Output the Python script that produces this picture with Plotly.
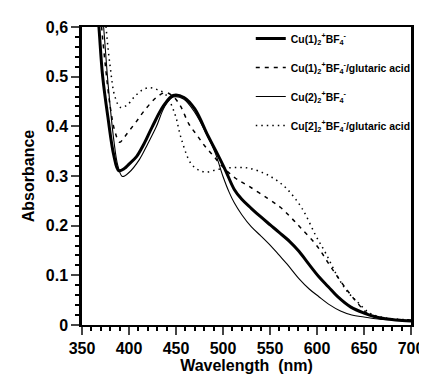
import plotly.graph_objects as go

# Cu(1)2+BF4- (thick solid)
wl_cu1 = [362, 368, 372, 377.6, 383.8, 389, 395, 400, 408, 416, 424.7, 437, 447, 458.5, 470, 484, 492, 502.5, 512, 520, 530, 540, 550.6, 560, 571, 581, 591.5, 602, 612, 622, 636, 650, 665, 683.7, 700]
abs_cu1 = [0.75, 0.6, 0.50, 0.418, 0.342, 0.311, 0.315, 0.324, 0.339, 0.365, 0.399, 0.442, 0.462, 0.458, 0.435, 0.381, 0.352, 0.312, 0.273, 0.253, 0.235, 0.218, 0.201, 0.186, 0.168, 0.148, 0.122, 0.097, 0.077, 0.057, 0.036, 0.024, 0.015, 0.01, 0.008]

# Cu(1)2+BF4-/glutaric acid (dashed)
wl_cu1g = [364, 370, 375, 380, 385, 390, 395, 401, 408, 416.5, 429, 439, 447, 455, 463.6, 472, 480, 490, 500, 513, 527, 547.5, 561, 573, 583, 600, 615, 632.5, 645, 653, 665, 685, 700]
abs_cu1g = [0.8, 0.62, 0.52, 0.44, 0.39, 0.368, 0.378, 0.393, 0.41, 0.432, 0.458, 0.468, 0.46, 0.44, 0.405, 0.383, 0.362, 0.34, 0.318, 0.296, 0.28, 0.255, 0.237, 0.215, 0.195, 0.159, 0.116, 0.069, 0.04, 0.024, 0.014, 0.011, 0.01]

# Cu(2)2+BF4- (thin solid)
wl_cu2 = [366, 373, 378, 384, 388, 393, 400, 411, 420, 429, 438, 447, 458, 470, 482, 492, 500, 506.6, 512, 520, 530, 540, 550.6, 560, 568, 581, 592, 602, 614, 625, 637, 650, 665, 685, 700]
abs_cu2 = [0.75, 0.6, 0.48, 0.37, 0.322, 0.299, 0.307, 0.333, 0.365, 0.399, 0.44, 0.459, 0.455, 0.428, 0.386, 0.345, 0.299, 0.267, 0.246, 0.222, 0.198, 0.180, 0.160, 0.140, 0.123, 0.093, 0.072, 0.057, 0.04, 0.028, 0.02, 0.016, 0.012, 0.01, 0.009]

# Cu[2]2+BF4-/glutaric acid (dotted)
wl_cu2g = [368, 372, 375.6, 380, 385, 391, 398, 406, 414, 421.6, 430, 439, 449, 455, 465.6, 474, 482, 492, 502.5, 513, 527, 543, 555, 568, 584, 598.7, 610, 622, 632, 642.7, 656, 670, 685, 700]
abs_cu2g = [0.9, 0.7, 0.6, 0.52, 0.46, 0.438, 0.443, 0.46, 0.473, 0.478, 0.474, 0.464, 0.424, 0.379, 0.326, 0.312, 0.308, 0.312, 0.316, 0.317, 0.316, 0.306, 0.294, 0.274, 0.235, 0.18, 0.142, 0.097, 0.068, 0.047, 0.024, 0.015, 0.012, 0.01]

names = [
    "Cu(1)<sub>2</sub><sup>+</sup>BF<sub>4</sub><sup>-</sup>",
    "Cu(1)<sub>2</sub><sup>+</sup>BF<sub>4</sub><sup>-</sup>/glutaric acid",
    "Cu(2)<sub>2</sub><sup>+</sup>BF<sub>4</sub><sup>-</sup>",
    "Cu[2]<sub>2</sub><sup>+</sup>BF<sub>4</sub><sup>-</sup>/glutaric acid",
]

y_tickvals = [0, 0.1, 0.2, 0.3, 0.4, 0.5, 0.6]
y_ticktext = ["0", "0.1", "0.2", "0.3", "0.4", "0.5", "0,6"]
x_tickvals = [350, 400, 450, 500, 550, 600, 650, 700]

series = [
    (wl_cu1, abs_cu1, dict(color="black", width=3, dash="solid")),
    (wl_cu1g, abs_cu1g, dict(color="black", width=1.5, dash="4px,5px")),
    (wl_cu2, abs_cu2, dict(color="black", width=1.1, dash="solid")),
    (wl_cu2g, abs_cu2g, dict(color="black", width=1.5, dash="1.5px,4px")),
]

fig = go.Figure()
for i, (x, y, ln) in enumerate(series):
    fig.add_trace(go.Scatter(x=x, y=y, mode="lines", name=names[i],
                             line=dict(shape="spline", smoothing=1.0, **ln),
                             legendgroup=f"g{i}"))

font_main = dict(family="Liberation Sans", size=16, color="black", weight="bold")

fig.update_layout(
    width=427, height=375,
    margin=dict(l=74, r=11, t=18, b=53),
    paper_bgcolor="white", plot_bgcolor="white",
    showlegend=True,
    legend=dict(x=0.513, y=1.01, xanchor="left", yanchor="top",
                bgcolor="rgba(0,0,0,0)", borderwidth=0,
                font=dict(family="Liberation Sans", size=10.4, color="black", weight="bold"),
                tracegroupgap=10, itemwidth=30),
    xaxis=dict(range=[350, 700], tickvals=x_tickvals, ticks="outside", ticklen=8, tickwidth=2,
               showline=True, linewidth=2, linecolor="black", mirror=True, showgrid=False,
               zeroline=False, tickfont=font_main,
               minor=dict(dtick=10, ticks="outside", ticklen=4, tickwidth=1.5, tickcolor="black", showgrid=False),
               title=dict(text="Wavelength  (nm)", font=font_main, standoff=4)),
    yaxis=dict(range=[0, 0.6], tickvals=y_tickvals, ticktext=y_ticktext, ticks="outside", ticklen=8, tickwidth=2,
               showline=True, linewidth=2.5, linecolor="black", mirror=True, showgrid=False,
               zeroline=False, tickfont=font_main,
               minor=dict(dtick=0.02, ticks="outside", ticklen=4, tickwidth=1.5, tickcolor="black", showgrid=False),
               title=dict(text="Absorbance", font=font_main, standoff=8)),
)

fig.write_html("out.html")
